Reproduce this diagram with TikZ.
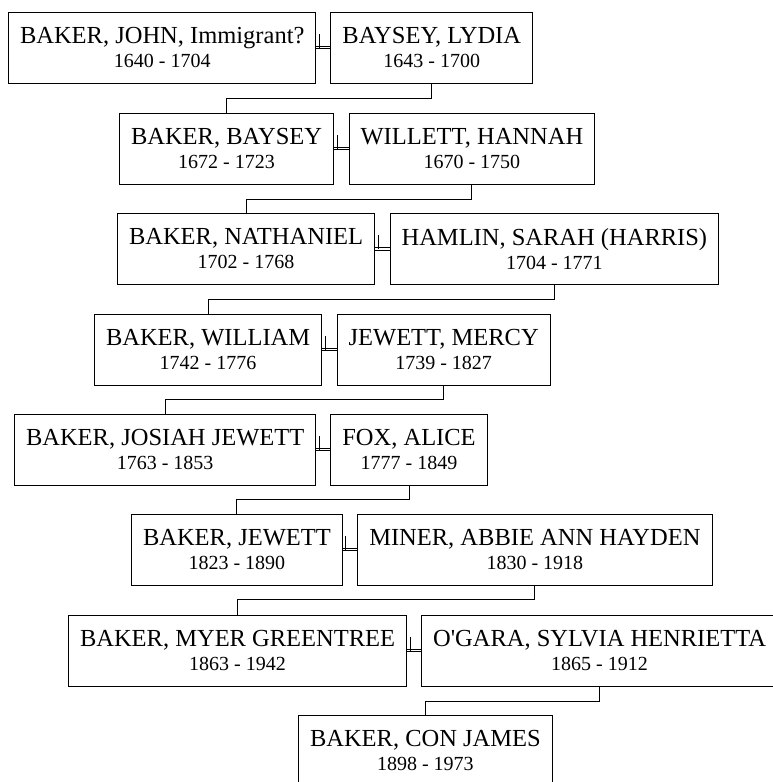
\documentclass[tikz,border=0pt]{standalone}
\usepackage{fontspec}
\setmainfont{Liberation Serif}
\usetikzlibrary{positioning}
\newcommand{\lifespan}[1]{{\fontsize{20}{24}\selectfont #1}}
\tikzset{
    person/.style = {
        draw,
        rectangle,
        align = center,
        inner xsep = 11.5pt,
        inner ysep = 0pt,
        minimum height = 71pt,
        line width = 1pt,
        font = \fontsize{24.5}{24}\selectfont,
        },
    married/.style = {
        double,
        double distance = 1.6pt,
        line width = 0.8pt,
        },
    tick/.style = {
        line width = 1pt,
        },
    descent/.style = {
        line width = 1pt,
        },
}

\begin{document}
\begin{tikzpicture}[x=1pt, y=-1pt]
            \useasboundingbox (0,0) rectangle (772,782);

            \node[person, anchor=west] (john) at (8,47.5) {BAKER, JOHN, Immigrant?\\ \lifespan{1640 - 1704}};
            \node[person, right=14pt of john] (lydia) {BAYSEY, LYDIA\\ \lifespan{1643 - 1700}};
            \node[person, anchor=west] (baysey) at (119,148.5) {BAKER, BAYSEY\\ \lifespan{1672 - 1723}};
            \node[person, right=14.5pt of baysey] (hannah) {WILLETT, HANNAH\\ \lifespan{1670 - 1750}};
            \node[person, anchor=west] (nathaniel) at (117,249) {BAKER, NATHANIEL\\ \lifespan{1702 - 1768}};
            \node[person, right=14.5pt of nathaniel] (sarah) {HAMLIN, SARAH (HARRIS)\\ \lifespan{1704 - 1771}};
            \node[person, anchor=west] (william) at (94,349.5) {BAKER, WILLIAM\\ \lifespan{1742 - 1776}};
            \node[person, right=14.5pt of william] (mercy) {JEWETT, MERCY\\ \lifespan{1739 - 1827}};
            \node[person, anchor=west] (josiah) at (14,449.5) {BAKER, JOSIAH JEWETT\\ \lifespan{1763 - 1853}};
            \node[person, right=14pt of josiah] (alice) {FOX, ALICE\\ \lifespan{1777 - 1849}};
            \node[person, anchor=west] (jewett) at (131,549.5) {BAKER, JEWETT\\ \lifespan{1823 - 1890}};
            \node[person, right=14.5pt of jewett] (abbie) {MINER, ABBIE ANN HAYDEN\\ \lifespan{1830 - 1918}};
            \node[person, anchor=west] (myer) at (68,650.5) {BAKER, MYER GREENTREE\\ \lifespan{1863 - 1942}};
            \node[person, right=14pt of myer] (sylvia) {O\textquotesingle GARA, SYLVIA HENRIETTA\\ \lifespan{1865 - 1912}};
            \node[person, anchor=west] (con) at (298,750.5) {BAKER, CON JAMES\\ \lifespan{1898 - 1973}};

            % marriages
            \foreach \he/\she in {john/lydia, baysey/hannah, nathaniel/sarah, william/mercy, josiah/alice, jewett/abbie, myer/sylvia} {
                \draw[married] (\he.east) -- (\she.west);
                \draw[tick] ([xshift=3pt]\he.east) -- ++(0,-14);
            }

            % children
            \draw[descent] (lydia.south) -- ++(0,15) -| (baysey.north);
            \draw[descent] (hannah.south) -- ++(0,14.5) -| (nathaniel.north);
            \draw[descent] (sarah.south) -- ++(0,14.5) -| (william.north);
            \draw[descent] (mercy.south) -- ++(0,14) -| (josiah.north);
            \draw[descent] (alice.south) -- ++(0,14) -| (jewett.north);
            \draw[descent] (abbie.south) -- ++(0,14) -| (myer.north);
            \draw[descent] (sylvia.south) -- ++(0,15) -| (con.north);
        \end{tikzpicture}
\end{document}
